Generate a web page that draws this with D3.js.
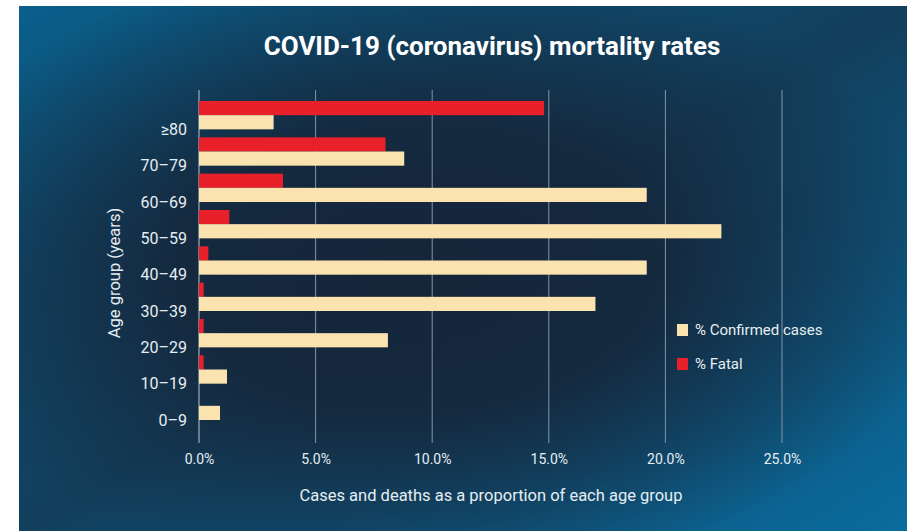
<!DOCTYPE html>
<html>
<head>
<meta charset="utf-8">
<script src="https://cdn.jsdelivr.net/npm/d3@7"></script>
<style>
  body { margin: 0; background: #fff; }
  svg { display: block; font-family: Roboto, "Liberation Sans", sans-serif; }
  .tick text { fill: #e6eef3; }
</style>
</head>
<body>
<svg width="907" height="531"></svg>
<script>
const ageGroups = ['≥80', '70–79', '60–69', '50–59', '40–49', '30–39', '20–29', '10–19', '0–9'];
const confirmed = [3.2, 8.8, 19.2, 22.4, 19.2, 17.0, 8.1, 1.2, 0.9];
const fatal = [14.8, 8.0, 3.6, 1.3, 0.4, 0.2, 0.2, 0.2, 0.0];
const xTicks = [0, 5, 10, 15, 20, 25];
const seriesNames = ['% Fatal', '% Confirmed cases'];
const seriesColors = ['#e8202a', '#fbe3b0'];

const svg = d3.select('svg');
const width = +svg.attr('width');
const height = +svg.attr('height');

// background panel: blue diagonal with a dark centre
const defs = svg.append('defs');
const grad = defs.append('linearGradient')
    .attr('id', 'bg')
    .attr('x1', 0).attr('y1', 0)
    .attr('x2', 1).attr('y2', 1);
grad.append('stop').attr('offset', 0).attr('stop-color', '#0a5f8b');
grad.append('stop').attr('offset', 0.5).attr('stop-color', '#123f5c');
grad.append('stop').attr('offset', 1).attr('stop-color', '#0a6c9e');

const shade = defs.append('radialGradient')
    .attr('id', 'shade')
    .attr('cx', 0.45).attr('cy', 0.5).attr('r', 0.6);
shade.append('stop').attr('offset', 0).attr('stop-color', '#15253a').attr('stop-opacity', 1);
shade.append('stop').attr('offset', 0.45).attr('stop-color', '#15263a').attr('stop-opacity', 0.9);
shade.append('stop').attr('offset', 1).attr('stop-color', '#15263a').attr('stop-opacity', 0);

svg.append('rect')
    .attr('x', 19).attr('y', 6)
    .attr('width', width - 19).attr('height', height - 6)
    .attr('fill', 'url(#bg)');
svg.append('rect')
    .attr('x', 19).attr('y', 6)
    .attr('width', width - 19).attr('height', height - 6)
    .attr('fill', 'url(#shade)');

const rows = ageGroups.map((g, i) => ({group: g, values: [fatal[i], confirmed[i]]}));

const x = d3.scaleLinear().domain([0, 25]).range([199, 782]);
const y = d3.scaleBand().domain(ageGroups).range([97, 424])
    .paddingInner(0.22).paddingOuter(0.11);
const ySub = d3.scaleBand().domain([0, 1]).range([0, y.bandwidth()]);

// gridlines
svg.append('g')
  .selectAll('line')
  .data(xTicks)
  .enter().append('line')
    .attr('x1', d => x(d)).attr('x2', d => x(d))
    .attr('y1', 90).attr('y2', 443)
    .attr('stroke', d => d === 0 ? '#b9c6cf' : '#8296a5')
    .attr('stroke-width', 1);

// bars
const groups = svg.append('g')
  .selectAll('g')
  .data(rows)
  .enter().append('g')
    .attr('transform', d => `translate(0,${y(d.group)})`);

groups.selectAll('rect')
  .data(d => d.values)
  .enter().append('rect')
    .attr('x', x(0))
    .attr('y', (d, i) => ySub(i))
    .attr('width', d => x(d) - x(0))
    .attr('height', ySub.bandwidth())
    .attr('fill', (d, i) => seriesColors[i]);

// x axis labels
const xAxis = d3.axisBottom(x)
    .tickValues(xTicks)
    .tickFormat(d => d.toFixed(1) + '%')
    .tickSize(0)
    .tickPadding(0);
const gx = svg.append('g')
    .attr('transform', 'translate(0,454)')
    .call(xAxis);
gx.select('.domain').remove();
gx.selectAll('text').attr('font-size', 14).attr('font-family', 'Roboto');

// y axis labels (sit near bottom of each group)
svg.append('g')
  .selectAll('text')
  .data(ageGroups)
  .enter().append('text')
    .attr('x', 187)
    .attr('y', d => y(d) + y.bandwidth())
    .attr('dy', '0.35em')
    .attr('text-anchor', 'end')
    .attr('fill', '#e6eef3')
    .attr('font-size', 16)
    .text(d => d);

// title
svg.append('text')
    .attr('x', 492).attr('y', 55)
    .attr('text-anchor', 'middle')
    .attr('fill', '#ffffff')
    .attr('font-size', 26)
    .attr('font-weight', 'bold')
    .text('COVID-19 (coronavirus) mortality rates');

// axis titles
svg.append('text')
    .attr('x', 491).attr('y', 501)
    .attr('text-anchor', 'middle')
    .attr('fill', '#e6eef3')
    .attr('font-size', 16.5)
    .text('Cases and deaths as a proportion of each age group');

svg.append('text')
    .attr('transform', 'translate(120,273) rotate(-90)')
    .attr('text-anchor', 'middle')
    .attr('fill', '#e6eef3')
    .attr('font-size', 16.5)
    .text('Age group (years)');

// legend
const legend = svg.append('g')
  .selectAll('g')
  .data([1, 0])
  .enter().append('g')
    .attr('transform', (d, i) => `translate(677,${324 + i * 34})`);
legend.append('rect')
    .attr('width', 11).attr('height', 12)
    .attr('fill', d => seriesColors[d]);
legend.append('text')
    .attr('x', 18).attr('y', 6)
    .attr('dy', '0.35em')
    .attr('fill', '#e6eef3')
    .attr('font-size', 15)
    .text(d => seriesNames[d]);
</script>
</body>
</html>
